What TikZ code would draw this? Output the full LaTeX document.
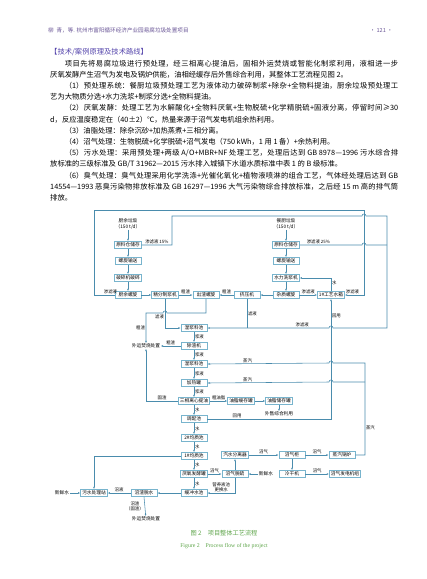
\documentclass[tikz,border=0pt]{standalone}
\usepackage{fontspec}
\setmainfont{Noto Sans CJK SC}
\newfontfamily\enfont{Liberation Serif}
\usetikzlibrary{arrows.meta,positioning}
\XeTeXlinebreaklocale "zh"
\XeTeXlinebreakskip=0pt plus 2pt
\definecolor{lineblue}{RGB}{74,140,173}
\definecolor{boxblue}{RGB}{120,180,205}
\definecolor{headpurple}{RGB}{105,85,150}
\definecolor{capgreen}{RGB}{95,165,75}
\newcommand\bodyfont{\fontsize{7.3}{11.2}\selectfont}
\newcommand\flowfont{\fontsize{4.7}{5.6}\selectfont}
\newcommand\labfont{\fontsize{4.4}{5.2}\selectfont}

\begin{document}
\begin{tikzpicture}[x=1pt,y=-1pt,>={Latex[length=2.2pt,width=1.8pt]},
proc/.style={draw=boxblue,line width=0.8pt,fill=white,font=\flowfont,inner xsep=1.5pt,inner ysep=0.8pt,minimum width=26pt,minimum height=7pt},
txt/.style={font=\flowfont,inner sep=0.5pt,align=center},
lab/.style={font=\labfont,inner sep=0.8pt},
flow/.style={->,draw=lineblue,line width=0.55pt},
pipe/.style={draw=lineblue,line width=0.55pt}]
\useasboundingbox (0,0) rectangle (427,579);
% page head and text
\node[anchor=west,font=\fontsize{5.6}{6}\selectfont,text=headpurple,inner sep=0] (head) at (48,30) {柳\hspace{0.5em}青，等. 杭州市富阳循环经济产业园易腐垃圾处置项目};
\node[anchor=east,font=\fontsize{5.6}{6}\selectfont,text=headpurple,inner sep=0] (page) at (393,30) {· 121 ·};
\node[anchor=north west,text width=348pt,align=justify,inner sep=0,font=\bodyfont] (body) at (50,48.5) {%
{\color{headpurple!80!blue}【技术/案例原理及技术路线】}\par
\hspace*{2em}项目先将易腐垃圾进行预处理，经三相离心提油后，固相外运焚烧或智能化制浆利用，液相进一步\linebreak 厌氧发酵产生沼气为发电及锅炉供能，油相经缓存后外售综合利用，其整体工艺流程见图 2。\par
\hspace*{2em}（1）预处理系统：餐厨垃圾预处理工艺为液体动力破碎制浆+除杂+全物料提油，厨余垃圾预处理工\linebreak 艺为大物质分选+水力洗浆+制浆分选+全物料提油。\par
\hspace*{2em}（2）厌氧发酵：处理工艺为水解酸化+全物料厌氧+生物脱硫+化学精脱硫+固液分离，停留时间≥30\linebreak d，反应温度稳定在（40±2）℃，热量来源于沼气发电机组余热利用。\par
\hspace*{2em}（3）油脂处理：除杂沉砂+加热蒸煮+三相分离。\par
\hspace*{2em}（4）沼气处理：生物脱硫+化学脱硫+沼气发电（750 kWh，1 用 1 备）+余热利用。\par
\hspace*{2em}（5）污水处理：采用预处理+两级 A/O+MBR+NF 处理工艺，处理后达到 GB 8978—1996 污水综合排\linebreak 放标准的三级标准及 GB/T 31962—2015 污水排入城镇下水道水质标准中表 1 的 B 级标准。\par
\hspace*{2em}（6）臭气处理：臭气处理采用化学洗涤+光催化氧化+植物液喷淋的组合工艺，气体经处理后达到 GB\linebreak 14554—1993 恶臭污染物排放标准及 GB 16297—1996 大气污染物综合排放标准，之后经 15 m 高的排气筒\linebreak 排放。};
% feed
\node[txt] (kitchen) at (128,224) {厨余垃圾\\（150 t/d）};
\node[txt] (food) at (286,224) {餐厨垃圾\\（150 t/d）};
\node[proc] (rawL) at (128,245) {原料仓储存};
\node[proc] (screwL) at (128,261) {螺旋输送};
\node[proc] (crush) at (128,278) {破碎机破碎};
\node[proc] (kscrew) at (128,295) {厨余螺旋};
\node[proc] (pulper) at (165,295) {精分制浆机};
\node[proc] (rscrew) at (206,295) {出渣螺旋};
\node[proc] (press) at (247,295) {挤压机};
\node[proc] (rawR) at (286,245) {原料仓储存};
\node[proc] (screwR) at (286,261) {螺旋输送};
\node[proc] (washer) at (286,278) {水力洗浆机};
\node[proc] (iscrew) at (286,295) {杂质螺旋};
\node[proc] (tank1) at (331,295) {1\#工艺水箱};
% slurry line
\node[proc] (slurry1) at (194,328) {湿浆料池};
\node[proc] (desand) at (194,346) {除渣机};
\node[proc] (slurry2) at (194,364) {湿浆料池};
\node[proc] (heater) at (194,383) {加热罐};
\node[proc] (tricanter) at (194,401) {三相离心提油};
\node[proc] (mixer) at (194,419) {调配池};
\node[proc] (homo2) at (194,438) {2\#均质池};
\node[proc] (homo1) at (194,456) {1\#均质池};
\node[proc] (digester) at (194,474) {厌氧发酵罐};
\node[proc] (buffer) at (194,493) {缓冲水池};
\node[proc] (dewater) at (144,493) {沼渣脱水};
\node[proc] (wwtp) at (94,493) {污水处理站};
\node[txt] (freshL) at (62,493) {新鲜水};
\node[txt] (burn1) at (146,346) {外运焚烧处置};
\node[txt] (burn2) at (146,519) {外运焚烧处置};
\node[proc] (oilbuf) at (241,401) {油脂缓存罐};
\node[proc] (oilstore) at (279,401) {油脂储存罐};
\node[txt] (sale) at (279,414) {外售综合利用};
% biogas
\node[proc] (separator) at (235,455) {汽水分离器};
\node[proc] (desulf) at (235,474) {沼气脱硫};
\node[proc] (holder) at (292,455) {沼气柜};
\node[proc] (boiler) at (342,455) {蒸汽锅炉};
\node[proc] (dryer) at (292,474) {冷干机};
\node[proc] (genset) at (345,474) {沼气发电机组};
\node[txt] (fresh) at (266,474) {新鲜水};
\coordinate (loopL) at (94,210);
\coordinate (loopR) at (364,210);
\coordinate (j25) at (387,245);
\coordinate (stm) at (365,382);
% pretreatment
\draw[flow] (kitchen) -- (rawL);
\draw[flow] (food) -- (rawR);
\draw[flow] (rawL) -- (screwL);
\draw[flow] (screwL) -- (crush);
\draw[flow] (crush) -- (kscrew);
\draw[flow] (kscrew) -- (pulper);
\draw[flow] (pulper) -- node[lab,above]{粗渣} (rscrew);
\draw[flow] (press) -- node[lab,above]{粗渣} (rscrew);
\draw[flow] (iscrew) -- (press);
\draw[flow] (rawR) -- (screwR);
\draw[flow] (screwR) -- (washer);
\draw[flow] (washer) -- (iscrew);
\draw[flow] (iscrew) -- node[lab,above]{渗滤液} (tank1);
\draw[flow] (tank1.north) |- node[lab,pos=0.3,right]{水} (washer.east);
\draw[flow] (kscrew.west) -| node[lab,pos=0.1,above]{渗滤液} (loopL) -- (loopR) |- node[lab,pos=0.8,above]{渗滤液} (tank1.east);
\draw[flow] (rawL.east) -- node[lab,above]{渗滤液 15\%} (172,245) -- (172,216) -- (362,216) .. controls (362,213.3) and (366,213.3) .. (366,216) -- (387,216) -- (387,328) -- (333,328) .. controls (333,325.3) and (329,325.3) .. (329,328) -- node[lab,above,pos=0.22]{渗滤液} (slurry1.east);
\draw[pipe] (rawR.east) -- node[lab,above,pos=0.3]{渗滤液 25\%} (362,245) .. controls (362,242.3) and (366,242.3) .. (366,245) -- (j25);
\draw[pipe] (press.south) -- node[lab,right]{滤液} (247,328);
\draw[flow] (pulper.south) |- node[lab,pos=0.3,left]{滤液} (slurry1.west);
\draw[flow] (rscrew.south) -- (206,313) -- (167,313) .. controls (167,310.3) and (163,310.3) .. (163,313) -- (146,313) -- node[lab,left]{粗渣} (burn1.north);
% slurry and water
\draw[flow] (slurry1) -- node[lab,right]{浆液} (desand);
\draw[flow] (desand) -- node[lab,right]{浆液} (slurry2);
\draw[flow] (slurry2) -- node[lab,right]{浆液} (heater);
\draw[flow] (heater) -- node[lab,right]{浆液} (tricanter);
\draw[flow] (tricanter) -- node[lab,right]{水} (mixer);
\draw[flow] (mixer) -- node[lab,right]{水} (homo2);
\draw[flow] (homo2) -- node[lab,right]{水} (homo1);
\draw[flow] (homo1) -- node[lab,right]{水} (digester);
\draw[flow] (digester) -- node[lab,right]{水} (buffer);
\draw[flow] (desand) -- node[lab,above]{粗渣} (burn1);
\draw[flow] (tricanter.west) -| node[lab,above,pos=0.25]{固渣} (burn1.south);
\draw[flow] (tricanter) -- node[lab,above]{粗油脂} (oilbuf);
\draw[flow] (oilbuf) -- (oilstore);
\draw[flow] (oilstore) -- (sale);
\draw[flow] (mixer.east) -| node[lab,above,pos=0.12]{回用} node[lab,right,pos=0.93]{回用} (tank1.south);
\draw[flow] (boiler.east) -| node[lab,right,pos=0.65]{蒸汽} (365,363) -- (333,363) .. controls (333,360.3) and (329,360.3) .. (329,363) -- node[lab,above,pos=0.67]{蒸汽} (slurry2.east);
\draw[flow] (stm) -- (333,382) .. controls (333,379.3) and (329,379.3) .. (329,382) -- node[lab,above,pos=0.67]{蒸汽} (heater.east);
\draw[flow] (homo1.west) -| (wwtp.north);
% biogas
\draw[flow] (digester) -- node[lab,above]{沼气} (desulf);
\draw[flow] (desulf) -- (separator);
\draw[flow] (separator) -- node[lab,above]{沼气} (holder);
\draw[flow] (holder) -- node[lab,above]{沼气} (boiler);
\draw[flow] (holder) -- (dryer);
\draw[flow] (dryer) -- node[lab,above]{沼气} (genset);
\draw[flow] (fresh) -- (desulf);
\draw[flow] (desulf.south) |- node[lab,pos=0.75,above,align=center]{营养液池\\更换水} (buffer.east);
\draw[flow] (buffer) -- (dewater);
\draw[flow] (dewater) -- node[lab,above]{沼液} (wwtp);
\draw[flow] (freshL) -- (wwtp);
\draw[flow] (dewater.south) -- node[lab,left,align=center]{沼渣\\（固渣）} (burn2);
% caption
\node[font=\fontsize{6.2}{7}\selectfont,text=capgreen] (cap) at (224,533) {图 2\quad 项目整体工艺流程};
\node[font=\enfont\fontsize{5.8}{7}\selectfont,text=capgreen,below=0.5pt of cap] (capen) {Figure 2\quad Process flow of the project};
\end{tikzpicture}
\end{document}
